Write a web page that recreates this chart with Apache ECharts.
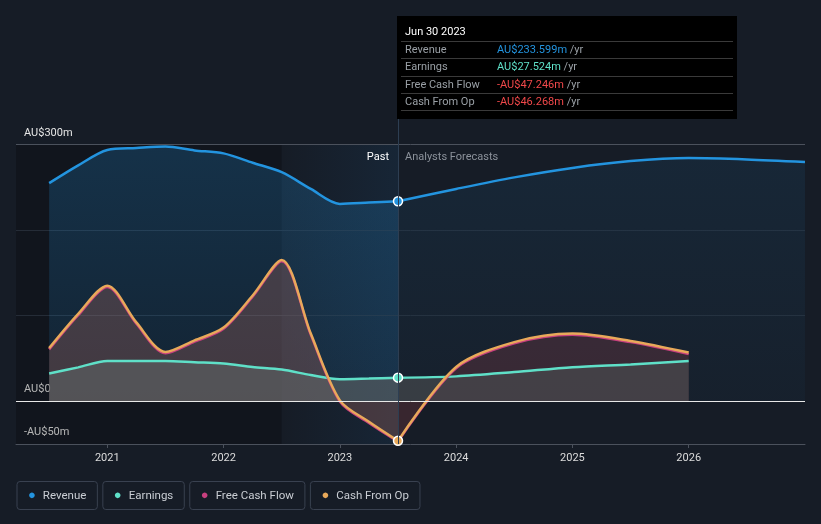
<!DOCTYPE html>
<html><head><meta charset="utf-8">
<script src="https://cdn.jsdelivr.net/npm/echarts@6/dist/echarts.min.js"></script>
<style>html,body{margin:0;padding:0;background:#161c26;}#c{width:821px;height:524px;}</style>
</head><body><div id="c"></div><script>
// ---- data (values in AU$ millions, x = decimal year) ----
const pastYears = [2020.5, 2020.75, 2021.0, 2021.25, 2021.5, 2021.75, 2022.0, 2022.25, 2022.5, 2022.75, 2023.0, 2023.25, 2023.5];
const revenuePast = [254.7, 275.5, 293.5, 295.8, 297.5, 293.0, 289.5, 278.5, 267.5, 248.0, 230.5, 232.0, 233.6];
const earningsPast = [32.3, 39.5, 47.0, 47.0, 47.0, 45.5, 44.0, 40.0, 37.0, 30.5, 25.7, 26.5, 27.5];
const cfoPast = [62.0, 102.0, 135.0, 92.0, 57.5, 71.0, 86.0, 123.5, 165.0, 79.0, 1.0, -24.0, -46.3];
const fcfPast = [60.5, 100.5, 133.5, 90.5, 56.0, 69.5, 84.5, 122.0, 163.5, 77.5, -0.5, -25.5, -47.2];

const revForecastYears = [2023.5, 2024.0, 2024.5, 2025.0, 2025.5, 2026.0, 2026.5, 2027.0];
const revenueForecast = [233.6, 248.0, 261.5, 272.5, 280.5, 284.0, 282.5, 279.5];
const forecastYears = [2023.5, 2024.0, 2024.5, 2025.0, 2025.5, 2026.0];
const earningsForecast = [27.5, 29.0, 34.0, 39.7, 43.0, 47.0];
const cfoForecast = [-46.3, 40.0, 69.0, 79.0, 70.4, 56.8];
const fcfForecast = [-47.2, 38.5, 67.5, 77.5, 69.0, 55.0];

const yearTicks = [2021, 2022, 2023, 2024, 2025, 2026];
const yLabels = {'300': 'AU$300m', '0': 'AU$0', '-50': '-AU$50m'};
const gridValues = [100, 200, 300];
const pastStart = 2022.5, nowX = 2023.5;

const legendNames = ['Revenue', 'Earnings', 'Free Cash Flow', 'Cash From Op'];
const tipDate = 'Jun 30 2023';
const tipLabels = ['Revenue', 'Earnings', 'Free Cash Flow', 'Cash From Op'];
const tipValues = ['AU$233.599m', 'AU$27.524m', '-AU$47.246m', '-AU$46.268m'];

// ---- styling ----
const C = {rev: '#2394df', earn: '#5fe0c8', fcf: '#c8407f', cfo: '#e8a95a', neg: '#f0484a'};
const tipColors = [C.rev, C.earn, C.neg, C.neg];
const FONT = 'Roboto, "Noto Sans", sans-serif';

function pairs(xs, ys, dot, color) {
  return xs.map((x, i) => {
    if (dot && i === dot.index) {
      return {value: [x, ys[i]], symbol: 'circle', symbolSize: 9,
        itemStyle: {color: color, borderColor: '#ffffff', borderWidth: 1.5}};
    }
    return [x, ys[i]];
  });
}
const grad = (c1, c2) => new echarts.graphic.LinearGradient(0, 0, 0, 1, [{offset: 0, color: c1}, {offset: 1, color: c2}]);

const chart = echarts.init(document.getElementById('c'), null, {renderer: 'canvas'});
const base = {type: 'line', smooth: 0.3, symbol: 'none', animation: false, silent: true};

const series = [
  Object.assign({}, base, {
    name: 'Revenue', z: 2,
    data: pairs(pastYears, revenuePast, {index: pastYears.length - 1}, C.rev),
    lineStyle: {color: C.rev, width: 2.5},
    itemStyle: {color: C.rev},
    areaStyle: {color: grad('rgba(35,148,223,0.32)', 'rgba(35,148,223,0.16)'), origin: 0},
    markArea: {
      silent: true, z: 1,
      data: [
        [{xAxis: 2020.215, yAxis: -50, itemStyle: {color: 'rgba(0,0,0,0.22)'}}, {xAxis: pastStart, yAxis: 300}],
        [{xAxis: pastStart, yAxis: -50, name: 'Past',
          itemStyle: {color: new echarts.graphic.LinearGradient(0, 0, 1, 0, [{offset: 0, color: 'rgba(33,150,243,0.0)'}, {offset: 1, color: 'rgba(33,150,243,0.08)'}])},
          label: {show: true, position: 'insideTopRight', distance: 7, color: '#ffffff', fontSize: 11, fontFamily: FONT, padding: [0, 2, 0, 0]}},
         {xAxis: nowX, yAxis: 300}],
        [{xAxis: nowX, yAxis: -50, name: 'Analysts Forecasts', itemStyle: {color: 'rgba(0,0,0,0)'},
          label: {show: true, position: 'insideTopLeft', distance: 7, color: '#8c929b', fontSize: 11, fontFamily: FONT}},
         {xAxis: 2027, yAxis: 300}]
      ]
    },
    markLine: {
      silent: true, symbol: 'none', z: 1, label: {show: false},
      data: gridValues.map(v => ({yAxis: v, lineStyle: {color: v === 300 ? '#4b515c' : '#252c37', width: 1, type: 'solid'}}))
    }
  }),
  Object.assign({}, base, {
    name: 'Revenue', z: 2,
    data: pairs(revForecastYears, revenueForecast),
    lineStyle: {color: C.rev, width: 2.5},
    itemStyle: {color: C.rev},
    areaStyle: {color: grad('rgba(35,148,223,0.13)', 'rgba(35,148,223,0.05)'), origin: 0}
  }),
  // cash area fills (under earnings)
  Object.assign({}, base, {
    name: 'Free Cash Flow', z: 3,
    data: pairs(pastYears, fcfPast),
    lineStyle: {width: 0, opacity: 0},
    itemStyle: {color: C.fcf},
    areaStyle: {color: 'rgba(170,105,95,0.45)', origin: 0}
  }),
  Object.assign({}, base, {
    name: 'Free Cash Flow', z: 3,
    data: pairs(forecastYears, fcfForecast),
    lineStyle: {width: 0, opacity: 0},
    itemStyle: {color: C.fcf},
    areaStyle: {color: 'rgba(130,60,70,0.45)', origin: 0}
  }),
  // earnings
  Object.assign({}, base, {
    name: 'Earnings', z: 4,
    data: pairs(pastYears, earningsPast, {index: pastYears.length - 1}, C.earn),
    lineStyle: {color: C.earn, width: 2.5},
    itemStyle: {color: C.earn},
    areaStyle: {color: 'rgba(95,99,101,0.88)', origin: 0}
  }),
  Object.assign({}, base, {
    name: 'Earnings', z: 4,
    data: pairs(forecastYears, earningsForecast),
    lineStyle: {color: C.earn, width: 2.5},
    itemStyle: {color: C.earn},
    areaStyle: {color: 'rgba(75,77,81,0.9)', origin: 0}
  }),
  // cash lines on top
  Object.assign({}, base, {
    name: 'Free Cash Flow', z: 5,
    data: pairs(pastYears, fcfPast),
    lineStyle: {color: C.fcf, width: 2.5},
    itemStyle: {color: C.fcf}
  }),
  Object.assign({}, base, {
    name: 'Free Cash Flow', z: 5,
    data: pairs(forecastYears, fcfForecast),
    lineStyle: {color: C.fcf, width: 2.5},
    itemStyle: {color: C.fcf}
  }),
  Object.assign({}, base, {
    name: 'Cash From Op', z: 6,
    data: pairs(pastYears, cfoPast, {index: pastYears.length - 1}, C.cfo),
    lineStyle: {color: C.cfo, width: 2.5},
    itemStyle: {color: C.cfo},
    markLine: {
      silent: true, symbol: 'none', z: 7, label: {show: false},
      data: [
        {yAxis: 0, lineStyle: {color: '#e8e8e8', width: 1, type: 'solid'}},
        {xAxis: nowX, lineStyle: {color: '#2d3e52', width: 1, type: 'solid'}}
      ]
    }
  }),
  Object.assign({}, base, {
    name: 'Cash From Op', z: 6,
    data: pairs(forecastYears, cfoForecast),
    lineStyle: {color: C.cfo, width: 2.5},
    itemStyle: {color: C.cfo}
  })
];

const legendColors = [C.rev, C.earn, C.fcf, C.cfo];
const rich = {};
legendColors.forEach((c, i) => { rich['d' + i] = {color: c, fontSize: 13, padding: [0, 7, 0, 0]}; });
rich.t = {color: '#c9cdd3', fontSize: 11.5, fontFamily: FONT};

const option = {
  backgroundColor: '#161c26',
  animation: false,
  textStyle: {fontFamily: FONT},
  grid: {left: 16, right: 16, top: 16, bottom: 80, containLabel: false},
  xAxis: {
    type: 'value', min: 2020.215, max: 2027,
    axisLine: {show: true, onZero: false, lineStyle: {color: '#4b515c', width: 1}},
    axisTick: {show: true, customValues: yearTicks, length: 4, lineStyle: {color: '#4b515c'}},
    axisLabel: {customValues: yearTicks, color: '#dcdcdc', fontSize: 11, margin: 9, fontFamily: FONT,
      formatter: v => String(Math.round(v))},
    splitLine: {show: false}
  },
  yAxis: {
    type: 'value', min: -50, max: 450, interval: 50,
    axisLine: {show: false}, axisTick: {show: false}, splitLine: {show: false},
    axisLabel: {inside: true, margin: 8, color: '#e6e6e6', fontSize: 11, fontFamily: FONT,
      verticalAlign: 'bottom', padding: [0, 0, 6, 0],
      formatter: v => yLabels[String(v)] || ''}
  },
  legend: {
    data: legendNames, left: 7, top: 476, itemGap: 0, itemWidth: 0, itemHeight: 0, icon: 'none',
    selectedMode: false,
    formatter: name => '{d' + legendNames.indexOf(name) + '|●}{t|' + name + '}',
    textStyle: {color: '#c9cdd3', fontSize: 11.5, fontFamily: FONT, borderColor: '#394150', borderWidth: 1,
      borderRadius: 3, padding: [8, 11, 7, 11], rich: rich}
  },
  tooltip: {
    show: true, trigger: 'item', triggerOn: 'none', alwaysShowContent: true, transitionDuration: 0,
    position: [397, 16], padding: 0, borderWidth: 0, backgroundColor: 'transparent',
    extraCssText: 'box-shadow:none;border-radius:0;',
    formatter: function () {
      let h = '<div style="width:340px;height:103px;background:#000;box-sizing:border-box;padding:0 4px;font-family:Roboto,sans-serif;font-size:11px;">';
      h += '<div style="height:25px;line-height:31px;padding-left:4px;color:#fff;">' + tipDate + '</div>';
      tipLabels.forEach((l, i) => {
        const last = i === tipLabels.length - 1;
        h += '<div style="border-top:1px solid #3a3a3a;' + (last ? 'border-bottom:1px solid #3a3a3a;' : '') +
          'height:16.3px;line-height:16.3px;padding-left:4px;white-space:nowrap;">' +
          '<span style="display:inline-block;width:92px;color:#9aa0a6;">' + l + '</span>' +
          '<span style="color:' + tipColors[i] + ';">' + tipValues[i] + '</span>' +
          '<span style="color:#9aa0a6;"> /yr</span></div>';
      });
      return h + '</div>';
    }
  },
  series: series
};
chart.setOption(option);
chart.dispatchAction({type: 'showTip', seriesIndex: 0, dataIndex: pastYears.length - 1});
</script></body></html>
